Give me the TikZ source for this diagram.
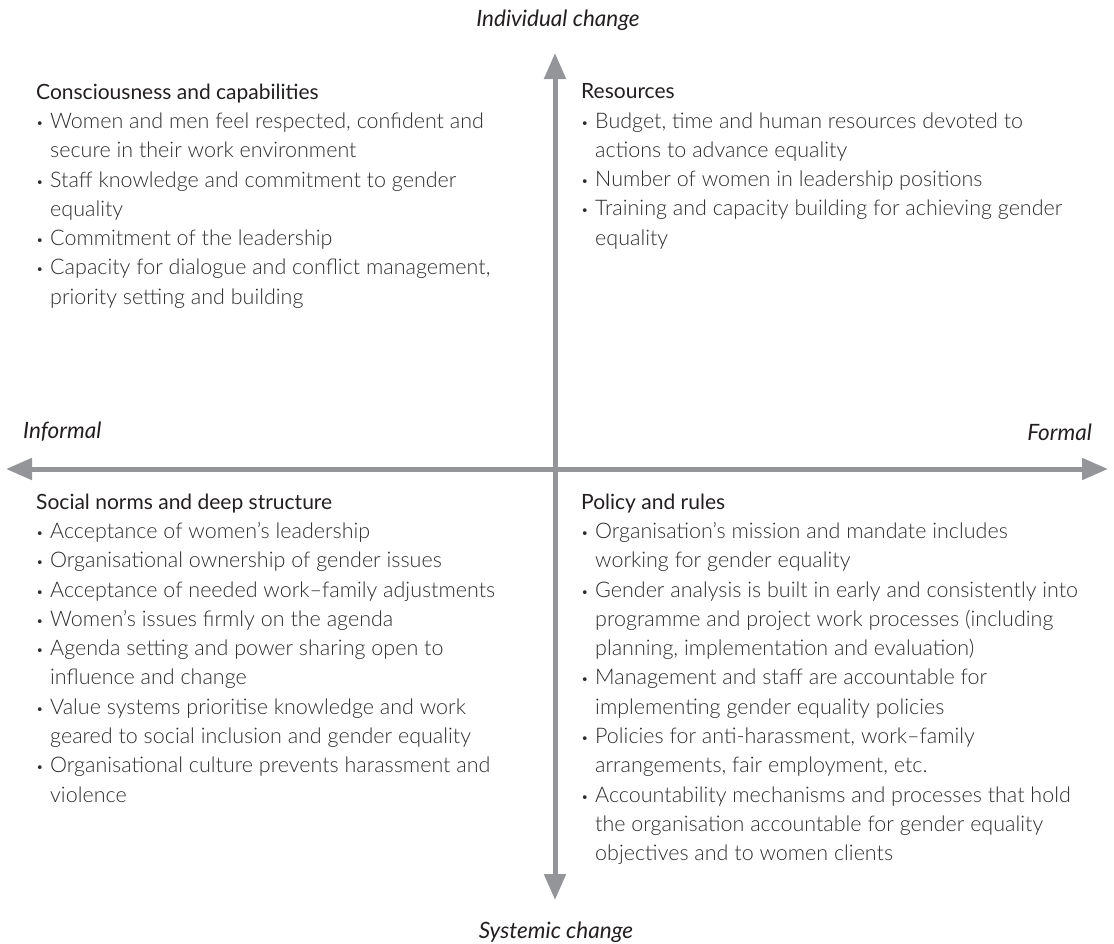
\documentclass[tikz,border=0pt]{standalone}
\usepackage{fontspec}
\setmainfont{Lato}
\newfontfamily\lightfont{Lato Light}
\usetikzlibrary{arrows.meta, positioning}
\definecolor{axisGrey}{HTML}{939598}
\definecolor{inkDark}{HTML}{231F20}
\definecolor{inkBody}{HTML}{2E2C2D}
\newcommand{\HeadFont}{\rmfamily\fontsize{21}{29.3}\selectfont}
\newcommand{\BodyFont}{\lightfont\fontsize{21.5}{29.3}\selectfont}
\newcommand{\Bul}{\makebox[14pt][l]{\raisebox{1pt}{\scalebox{0.6}{\textbullet}}}}
\newcommand{\Ind}{\hspace*{14pt}}

\begin{document}
\begin{tikzpicture}[x=1pt, y=-1pt,
    axis/.style={line width=5pt, draw=axisGrey, {Triangle[length=26pt,width=21pt]}-{Triangle[length=26pt,width=21pt]}},
    axislabel/.style={font=\fontsize{22.5}{26}\selectfont\itshape, text=inkDark, inner sep=0pt},
    quad/.style={anchor=north west, inner sep=0pt, align=left, font=\BodyFont, text=inkBody}]
    \useasboundingbox (0,0) rectangle (1114,943);

    % axis ends
    \coordinate (top) at (555,53);
    \coordinate (bottom) at (555,900);
    \coordinate (left) at (6,469);
    \coordinate (right) at (1108,469);

    % the two axes
    \draw[axis] (bottom) -- (top);
    \draw[axis] (left) -- (right);

    % axis labels
    \node[axislabel] (individual) at (558,20) {Individual change};
    \node[axislabel] (systemic) at (556,932) {Systemic change};
    \node[axislabel, anchor=west] (informal) at (23,432) {Informal};
    \node[axislabel, anchor=east] (formal) at (1092,432) {Formal};

    % upper left
    \node[quad] (conscious) at (36,83.5) {%
        {\HeadFont\color{inkDark}Consciousness and capabilities}\\
        \Bul Women and men feel respected, confident and\\
        \Ind secure in their work environment\\
        \Bul Staff knowledge and commitment to gender\\
        \Ind equality\\
        \Bul Commitment of the leadership\\
        \Bul Capacity for dialogue and conflict management,\\
        \Ind priority setting and building};

    % upper right
    \node[quad] (resources) at (581,83.5) {%
        {\HeadFont\color{inkDark}Resources}\\
        \Bul Budget, time and human resources devoted to\\
        \Ind actions to advance equality\\
        \Bul Number of women in leadership positions\\
        \Bul Training and capacity building for achieving gender\\
        \Ind equality};

    % lower left
    \node[quad] (norms) at (36,493.5) {%
        {\HeadFont\color{inkDark}Social norms and deep structure}\\
        \Bul Acceptance of women’s leadership\\
        \Bul Organisational ownership of gender issues\\
        \Bul Acceptance of needed work–family adjustments\\
        \Bul Women’s issues firmly on the agenda\\
        \Bul Agenda setting and power sharing open to\\
        \Ind influence and change\\
        \Bul Value systems prioritise knowledge and work\\
        \Ind geared to social inclusion and gender equality\\
        \Bul Organisational culture prevents harassment and\\
        \Ind violence};

    % lower right
    \node[quad] (policy) at (581,493.5) {%
        {\HeadFont\color{inkDark}Policy and rules}\\
        \Bul Organisation’s mission and mandate includes\\
        \Ind working for gender equality\\
        \Bul Gender analysis is built in early and consistently into\\
        \Ind programme and project work processes (including\\
        \Ind planning, implementation and evaluation)\\
        \Bul Management and staff are accountable for\\
        \Ind implementing gender equality policies\\
        \Bul Policies for anti-harassment, work–family\\
        \Ind arrangements, fair employment, etc.\\
        \Bul Accountability mechanisms and processes that hold\\
        \Ind the organisation accountable for gender equality\\
        \Ind objectives and to women clients};
\end{tikzpicture}
\end{document}
